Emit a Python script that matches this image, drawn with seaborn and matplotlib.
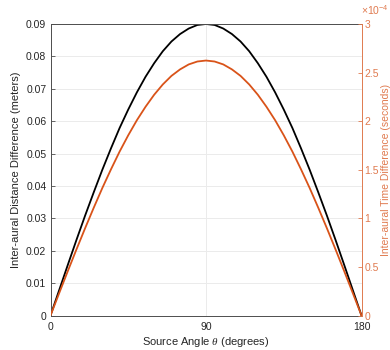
import matplotlib
matplotlib.use("Agg")
import matplotlib.pyplot as plt
import seaborn as sns
import pandas as pd
from matplotlib.ticker import FuncFormatter

# Source angle (degrees)
angle_deg = [0, 5, 10, 15, 20, 25, 30, 35, 40, 45, 50, 55, 60, 65, 70, 75, 80, 85, 90,
             95, 100, 105, 110, 115, 120, 125, 130, 135, 140, 145, 150, 155, 160, 165,
             170, 175, 180]

# Inter-aural distance difference (meters)
distance_m = [0.0, 0.0078, 0.0156, 0.0233, 0.0308, 0.0380, 0.0450, 0.0516, 0.0579,
              0.0636, 0.0689, 0.0737, 0.0779, 0.0816, 0.0846, 0.0869, 0.0886, 0.0897,
              0.0900,
              0.0897, 0.0886, 0.0869, 0.0846, 0.0816, 0.0779, 0.0737, 0.0689, 0.0636,
              0.0579, 0.0516, 0.0450, 0.0380, 0.0308, 0.0233, 0.0156, 0.0078, 0.0]

# Inter-aural time difference (seconds)
time_s = [0.0, 0.229e-4, 0.456e-4, 0.679e-4, 0.897e-4, 1.108e-4, 1.312e-4, 1.504e-4,
          1.687e-4, 1.855e-4, 2.010e-4, 2.148e-4, 2.272e-4, 2.378e-4, 2.466e-4,
          2.533e-4, 2.584e-4, 2.614e-4, 2.624e-4,
          2.614e-4, 2.584e-4, 2.533e-4, 2.466e-4, 2.378e-4, 2.272e-4, 2.148e-4,
          2.010e-4, 1.855e-4, 1.687e-4, 1.504e-4, 1.312e-4, 1.108e-4, 0.897e-4,
          0.679e-4, 0.456e-4, 0.229e-4, 0.0]

x_ticks = [0, 90, 180]
left_ticks = [0, 0.01, 0.02, 0.03, 0.04, 0.05, 0.06, 0.07, 0.08, 0.09]
right_ticks = [0, 0.5e-4, 1.0e-4, 1.5e-4, 2.0e-4, 2.5e-4, 3.0e-4]

df = pd.DataFrame({"angle": angle_deg, "dist": distance_m, "itd": time_s})

sns.set_theme(style="white")
plt.rcParams["font.family"] = ["Liberation Sans", "DejaVu Sans"]
plt.rcParams["mathtext.fontset"] = "custom"
plt.rcParams["mathtext.it"] = "Liberation Serif:italic"
plt.rcParams["mathtext.rm"] = "Liberation Sans"

fs = 7.5
lfs = 8.0
axis_gray = "#4d4d4d"
text_dark = "#262626"
orange = "#D95319"
orange_light = "#E07A4F"

W, H = 390, 350
fig = plt.figure(figsize=(3.9, 3.5), dpi=100)
x0, x1, y0, y1 = 50.5, 361.5, 24.0, 315.5
ax = fig.add_axes([x0 / W, 1 - y1 / H, (x1 - x0) / W, (y1 - y0) / H])

sns.lineplot(data=df, x="angle", y="dist", ax=ax, color="black", linewidth=1.3)
ax.set_xlim(0, 180)
ax.set_ylim(0, 0.09)
ax.set_xticks(x_ticks)
ax.set_yticks(left_ticks)
ax.set_yticklabels(["0"] + [f"{v:.2f}" for v in left_ticks[1:]])
ax.grid(True, color="#ebebeb", linewidth=0.7)
ax.set_xlabel(r"Source Angle $\theta$ (degrees)", fontsize=lfs, color=text_dark, labelpad=2)
ax.set_ylabel("Inter-aural Distance Difference (meters)", fontsize=lfs, color=text_dark, labelpad=4)
ax.tick_params(axis="both", direction="in", length=3, width=0.6, labelsize=fs,
               colors=axis_gray, labelcolor=text_dark, pad=3)
ax.tick_params(axis="x", top=False, pad=5)
for side in ["left", "bottom", "top"]:
    ax.spines[side].set_color(axis_gray)
    ax.spines[side].set_linewidth(0.7)
ax.spines["right"].set_visible(False)

ax2 = ax.twinx()
sns.lineplot(data=df, x="angle", y="itd", ax=ax2, color=orange, linewidth=1.3)
ax2.set_ylim(0, 3e-4)
ax2.set_yticks(right_ticks)
ax2.yaxis.set_major_formatter(FuncFormatter(lambda v, p: f"{v * 1e4:g}"))
ax2.set_ylabel("Inter-aural Time Difference (seconds)", fontsize=7.5, color=orange_light)
ax2.yaxis.set_label_coords((380.8 - x0) / (x1 - x0), 0.5)
ax2.tick_params(axis="y", direction="in", length=3, width=0.6, labelsize=fs,
                colors=orange_light, pad=2)
ax2.grid(False)
for side in ["left", "bottom", "top"]:
    ax2.spines[side].set_visible(False)
ax2.spines["right"].set_color(orange_light)
ax2.spines["right"].set_linewidth(0.7)
ax2.set_xlabel("")

# exponent multiplier for the right axis
fig.text(361 / W, 1 - 17 / H, r"$\times10^{-4}$", fontsize=fs, color=orange_light,
         ha="left", va="bottom")

fig.savefig("out.png", dpi=100)
